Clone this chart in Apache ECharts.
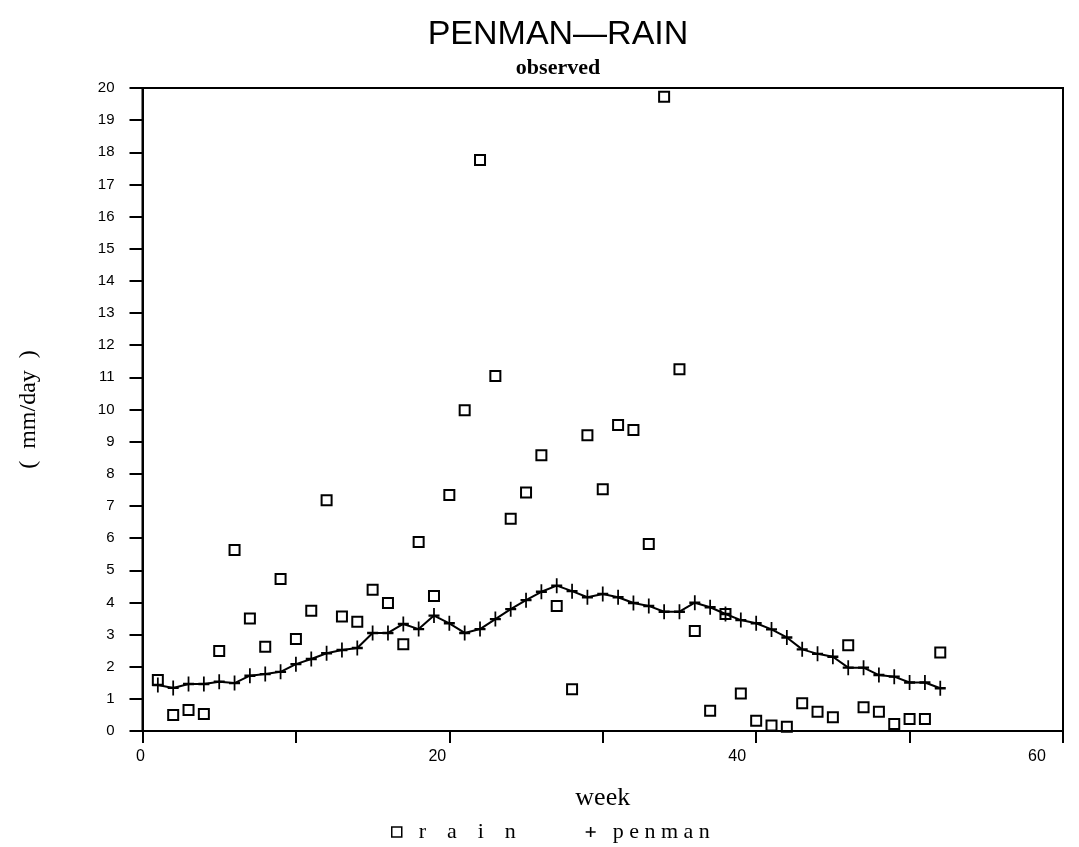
<!DOCTYPE html>
<html>
<head>
<meta charset="utf-8">
<script src="https://cdn.jsdelivr.net/npm/echarts@6/dist/echarts.min.js"></script>
<style>
html,body{margin:0;padding:0;background:#fff;}
#chart{width:1079px;height:847px;}
</style>
</head>
<body>
<div id="chart"></div>
<script>
var weeks = [1,2,3,4,5,6,7,8,9,10,11,12,13,14,15,16,17,18,19,20,21,22,23,24,25,26,
             27,28,29,30,31,32,33,34,35,36,37,38,39,40,41,42,43,44,45,46,47,48,49,50,51,52];
var rain = [1.59,0.50,0.65,0.53,2.49,5.63,3.50,2.62,4.73,2.86,3.74,7.18,3.56,3.40,4.39,3.98,
            2.70,5.88,4.20,7.34,9.98,17.76,11.04,6.60,7.42,8.58,3.89,1.30,9.20,7.52,9.52,9.36,
            5.82,19.73,11.25,3.11,0.63,3.64,1.17,0.32,0.17,0.13,0.86,0.60,0.43,2.67,0.74,0.60,
            0.22,0.37,0.37,2.44];
var penman = [1.43,1.34,1.46,1.46,1.53,1.49,1.72,1.77,1.84,2.08,2.24,2.42,2.52,2.58,3.05,3.05,
              3.33,3.17,3.59,3.35,3.05,3.17,3.48,3.79,4.07,4.33,4.52,4.35,4.16,4.26,4.16,3.98,
              3.89,3.71,3.71,3.99,3.85,3.64,3.45,3.35,3.16,2.91,2.54,2.40,2.31,1.97,1.97,1.74,
              1.69,1.51,1.51,1.33];
var xTickLabels = [0, 20, 40, 60];

var plusPath = 'path://M4.2,0 L5.8,0 L5.8,4.2 L10,4.2 L10,5.8 L5.8,5.8 L5.8,10 L4.2,10 L4.2,5.8 L0,5.8 L0,4.2 L4.2,4.2 Z';

// small horizontal nudges of the x tick labels (the printed labels sit left of their ticks)
var xLabelRich = {
  l0: {padding: [0, 4, 0, 0]},
  l20: {padding: [0, 24, 0, 0]},
  l40: {padding: [0, 38, 0, 0]},
  l60: {padding: [0, 52, 0, 0]}
};
for (var k in xLabelRich) {
  xLabelRich[k].fontFamily = 'Liberation Sans Narrow, Liberation Sans';
  xLabelRich[k].fontSize = 16;
  xLabelRich[k].color = '#000';
}

var chart = echarts.init(document.getElementById('chart'), null, {renderer: 'canvas'});
var option = {
  backgroundColor: '#fff',
  animation: false,
  title: {
    text: 'PENMAN\u2014RAIN',
    subtext: 'observed',
    left: 553,
    textAlign: 'center',
    top: 13,
    itemGap: 5,
    textStyle: {fontFamily: 'Liberation Sans Narrow, Liberation Sans', fontWeight: 'normal', fontSize: 34, color: '#000'},
    subtextStyle: {fontFamily: 'Liberation Serif', fontWeight: 'bold', fontSize: 22, color: '#000'}
  },
  legend: {
    left: 386,
    top: 816,
    itemGap: 70,
    itemWidth: 10,
    itemHeight: 10,
    textStyle: {fontFamily: 'Liberation Serif', fontSize: 22, color: '#000', padding: [0, 0, 0, 12]},
    formatter: function (name) {
      return name === 'rain' ? name.split('').join('   \u2009') : name.split('').join(' ');
    },
    data: [
      {name: 'rain', icon: 'rect', itemStyle: {color: 'rgba(0,0,0,0)', borderColor: '#000', borderWidth: 1.5}},
      {name: 'penman', icon: plusPath, itemStyle: {color: '#000', borderWidth: 0}}
    ]
  },
  grid: {
    left: 142.5,
    right: 16,
    top: 88,
    bottom: 116,
    show: true,
    borderColor: '#000',
    borderWidth: 2,
    backgroundColor: 'transparent'
  },
  xAxis: {
    type: 'value',
    min: 0,
    max: 60,
    interval: 10,
    name: 'week',
    nameLocation: 'middle',
    nameGap: 54,
    nameTextStyle: {fontFamily: 'Liberation Serif', fontSize: 26, color: '#000'},
    axisLine: {show: true, onZero: false, lineStyle: {color: '#000', width: 2}},
    axisTick: {show: true, inside: false, length: 12, lineStyle: {color: '#000', width: 2}},
    splitLine: {show: false},
    axisLabel: {
      margin: 18,
      color: '#000',
      fontFamily: 'Liberation Sans Narrow, Liberation Sans',
      fontSize: 16,
      rich: xLabelRich,
      formatter: function (v) { return xTickLabels.indexOf(v) >= 0 ? '{l' + v + '|' + v + '}' : ''; }
    }
  },
  yAxis: {
    type: 'value',
    min: 0,
    max: 20,
    interval: 1,
    name: '(  mm/day  )',
    nameLocation: 'middle',
    nameGap: 102,
    nameRotate: 90,
    nameTextStyle: {fontFamily: 'Liberation Serif', fontSize: 24, color: '#000'},
    axisLine: {show: true, onZero: false, lineStyle: {color: '#000', width: 2}},
    axisTick: {show: true, inside: false, length: 13, lineStyle: {color: '#000', width: 2}},
    splitLine: {show: false},
    axisLabel: {
      margin: 28,
      color: '#000',
      fontFamily: 'Liberation Sans Narrow, Liberation Sans',
      fontSize: 15
    }
  },
  series: [
    {
      name: 'penman',
      type: 'line',
      data: weeks.map(function (w, i) { return [w, penman[i]]; }),
      symbol: plusPath,
      symbolSize: [11, 15],
      showAllSymbol: true,
      lineStyle: {color: '#000', width: 2},
      itemStyle: {color: '#000', borderWidth: 0},
      z: 2
    },
    {
      name: 'rain',
      type: 'scatter',
      data: weeks.map(function (w, i) { return [w, rain[i]]; }),
      symbol: 'rect',
      symbolSize: 10,
      itemStyle: {color: 'rgba(0,0,0,0)', borderColor: '#000', borderWidth: 2, opacity: 1},
      z: 3
    }
  ]
};
chart.setOption(option);
</script>
</body>
</html>
